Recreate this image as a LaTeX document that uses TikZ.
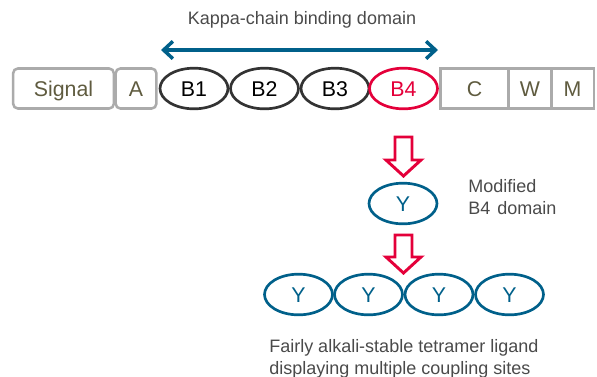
\documentclass[tikz,border=0pt]{standalone}
\usepackage{fontspec}
\setmainfont{Liberation Sans}
\definecolor{txtgray}{HTML}{4A4A4A}
\definecolor{olive}{HTML}{5F5B3F}
\definecolor{boxgray}{HTML}{ABABAB}
\definecolor{darkline}{HTML}{333333}
\definecolor{redline}{HTML}{E4003A}
\definecolor{blueline}{HTML}{00608A}
\newcommand{\fs}{\fontsize{16}{18}\selectfont}
\newcommand{\fsl}{\fontsize{13.5}{16.5}\selectfont}
\usetikzlibrary{shapes.geometric,arrows.meta}
\tikzset{
  x=0.75pt,y=-0.75pt,
  box/.style={draw=boxgray,line width=1.9pt,inner sep=0pt,text=olive,font=\fs,anchor=center,text height=11.5pt,text depth=0pt},
  rbox/.style={box,rounded corners=3.5pt},
  dom/.style={ellipse,draw=darkline,line width=2pt,inner sep=0pt,minimum width=51pt,minimum height=30.5pt,text=black,font=\fs,text height=11.5pt,text depth=0pt},
  reddom/.style={dom,draw=redline,text=redline},
  bluedom/.style={dom,draw=blueline,text=blueline},
  lbl/.style={text=txtgray,font=\fsl,inner sep=0pt,anchor=west},
  blockarrow/.style={draw=redline,line width=2.2pt,fill=white,miter limit=10},
  span/.style={draw=blueline,line width=2.6pt,{Straight Barb[length=7pt,width=13pt,line width=2.6pt]}-{Straight Barb[length=7pt,width=13pt,line width=2.6pt]}}
}
\begin{document}
\begin{tikzpicture}
\useasboundingbox (0,0) rectangle (597,376);
\clip (0,0) rectangle (597,376);
\node[lbl,anchor=center] (title) at (302,20) {Kappa-chain binding domain};
\node[rbox,minimum width=75.5pt,minimum height=30pt] (signal) at (63.5,88.5) {Signal};
\node[rbox,minimum width=30.5pt,minimum height=30pt] (a) at (136,88.5) {A};
\node[dom] (b1) at (194,88.5) {B1};
\node[dom] (b2) at (264.5,88.5) {B2};
\node[dom] (b3) at (335,88.5) {B3};
\node[reddom] (b4) at (403.5,88.5) {B4};
\node[box,minimum width=51pt,minimum height=30pt] (c) at (474.5,88.5) {C};
\node[box,minimum width=32pt,minimum height=30pt] (w) at (530,88.5) {W};
\node[box,minimum width=32pt,minimum height=30pt] (m) at (572.5,88.5) {M};
\coordinate (spanl) at (161,50);
\coordinate (spanr) at (438,50);
\draw[span] (spanl) -- (spanr);
\draw[blockarrow] (395,137) -- (412,137) -- (412,160) -- (421,160) -- (403.5,176) -- (386,160) -- (395,160) -- cycle;
\node[bluedom] (y0) at (403,203.5) {Y};
\node[lbl] (mod1) at (468,186) {Modified};
\node[lbl] (mod2) at (468,208) {B4\hspace{1.5pt} domain};
\draw[blockarrow] (395,235) -- (412,235) -- (412,257) -- (421,257) -- (403.5,273) -- (386,257) -- (395,257) -- cycle;
\node[bluedom] (y1) at (298.5,294.5) {Y};
\node[bluedom] (y2) at (368.5,294.5) {Y};
\node[bluedom] (y3) at (439,294.5) {Y};
\node[bluedom] (y4) at (509.5,294.5) {Y};
\node[lbl] (lig1) at (269,347.5) {Fairly alkali-stable tetramer ligand};
\node[lbl] (lig2) at (269,370) {displaying multiple coupling sites};
\end{tikzpicture}
\end{document}
